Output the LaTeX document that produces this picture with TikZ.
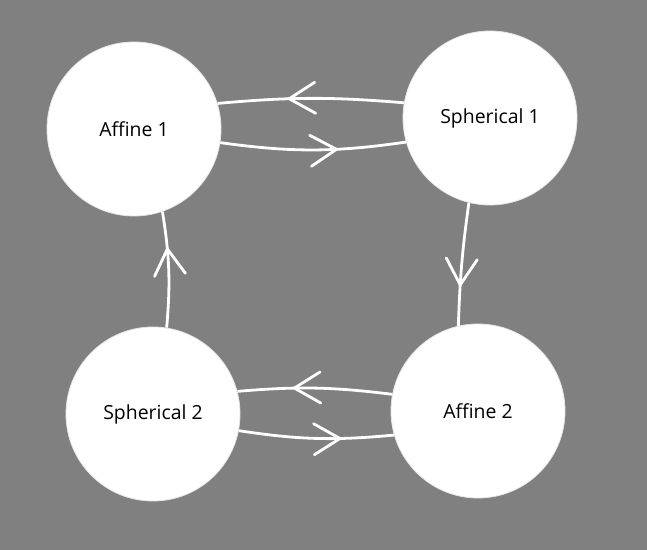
\documentclass[tikz,border=0pt]{standalone}
\usepackage{fontspec}
\setsansfont{Open Sans}
\usetikzlibrary{arrows.meta,decorations.markings}
\begin{document}
\begin{tikzpicture}[x=1bp, y=1bp,
  state/.style={circle, fill=white, draw=white!90!black, line width=0.8bp,
    minimum size=174bp, inner sep=0pt, font=\sffamily\fontsize{19.5}{22}\selectfont},
  link/.style={white, line width=2.8bp, postaction={decorate, decoration={markings,
    mark=at position #1 with {\arrow[white]{Straight Barb[length=26bp,width=31bp,line cap=round]}}}}}]
  \fill[gray] (0,0) rectangle (647,550);
  % the four states
  \node[state] (a1) at (134,421) {Affine 1};
  \node[state] (s1) at (490,432) {Spherical 1};
  \node[state] (s2) at (153,136) {Spherical 2};
  \node[state] (a2) at (478,139) {Affine 2};
  % top pair
  \draw[link=0.63] (s1.170) to[bend right=5] (a1.17);
  \draw[link=0.64] (a1.-9) to[bend right=8] (s1.196);
  % sides
  \draw[link=0.69] (s1.256) to[bend right=3] (a2.103);
  \draw[link=0.70] (s2.81) to[bend right=7] (a1.-71);
  % bottom pair
  \draw[link=0.65] (a2.169) to[bend right=6] (s2.15);
  \draw[link=0.67] (s2.-11) to[bend right=7] (a2.196);
\end{tikzpicture}
\end{document}
